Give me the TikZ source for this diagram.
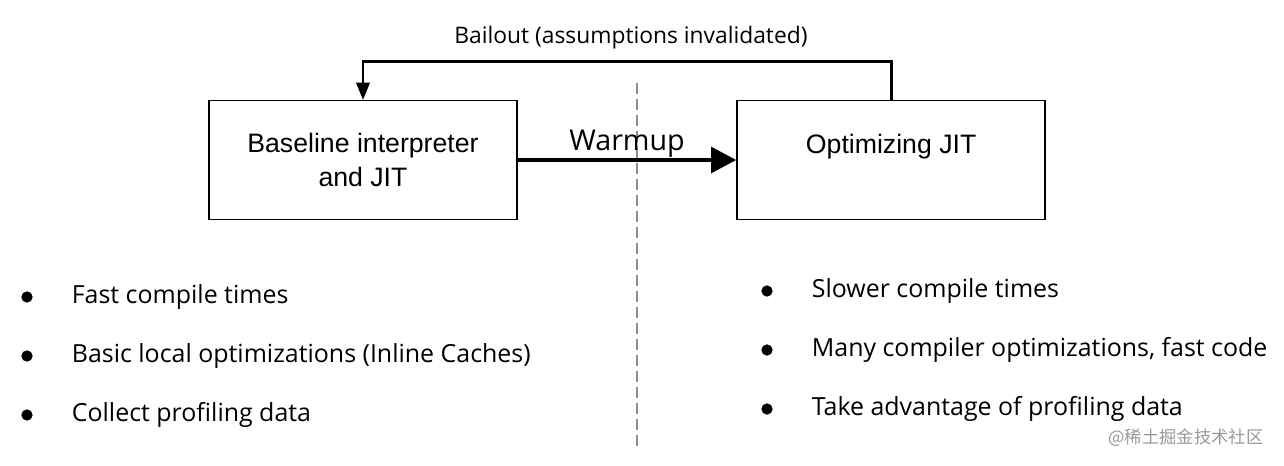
\documentclass[tikz,border=0pt]{standalone}
\usepackage{fontspec}
\setmainfont{Open Sans}
\newfontfamily\boxfont{Liberation Sans}
\newfontfamily\cjkfont{Noto Sans CJK SC}
\usetikzlibrary{arrows.meta, positioning}

\begin{document}
\begin{tikzpicture}[
    x=0.75pt, y=-0.75pt,
    stagebox/.style={draw, line width=1.1pt, minimum width=231pt, minimum height=89pt, align=center, font=\boxfont\fontsize{20}{25}\selectfont},
    label/.style={font=\fontsize{17.1}{20}\selectfont},
    biglabel/.style={font=\fontsize{21.5}{24}\selectfont},
    itemlabel/.style={font=\fontsize{18.7}{22}\selectfont, inner sep=0pt},
    item_dot/.style={circle, fill, inner sep=0pt, minimum size=8.5pt},
    divider/.style={dash pattern=on 8pt off 4pt, black!45, line width=0.8pt},
    bailout/.style={-{Triangle[length=13pt, width=10pt]}, line width=2.2pt},
    warmup/.style={-{Triangle[length=19pt, width=19pt]}, line width=3.6pt},
    node distance=0cm
]
\useasboundingbox (0,0) rectangle (1284,465);

% Dashed divider between the two tiers
\coordinate (div_top) at (637,83);
\coordinate (div_bottom) at (637,450);
\draw[divider] (div_top) -- (div_bottom);

% The two tiers
\node[stagebox] (baseline) at (363,160) {Baseline interpreter\\and JIT};
\node[stagebox, right=164pt of baseline] (optjit) {Optimizing JIT\\\mbox{}};

% Warmup arrow
\draw[warmup] (baseline) -- node[biglabel, above=0pt, inner sep=0pt] (warmup_label) {Warmup} (optjit);

% Bailout loop back
\draw[bailout] (optjit.north) -- ++(0,-38) coordinate (loop_corner) -| (baseline.north);
\node[label] (bailout_label) at (631,38) {Bailout (assumptions invalidated)};

% Bullet lists under each tier
\foreach \txt [count=\i] in {Fast compile times, Basic local optimizations (Inline Caches), Collect profiling data} {
    \node[item_dot] (leftdot\i) at (27,{297+59*(\i-1)}) {};
    \node[itemlabel, right=29pt of leftdot\i] (lefttext\i) {\txt};
}
\foreach \txt [count=\i] in {Slower compile times, {Many compiler optimizations, fast code}, Take advantage of profiling data} {
    \node[item_dot] (rightdot\i) at (767,{291+59*(\i-1)}) {};
    \node[itemlabel, right=29pt of rightdot\i] (righttext\i) {\txt};
}

% Watermark
\node[font=\cjkfont\fontsize{13}{15}\selectfont, text=black!40] (watermark) at (1186,438) {@稀土掘金技术社区};

\end{tikzpicture}
\end{document}
